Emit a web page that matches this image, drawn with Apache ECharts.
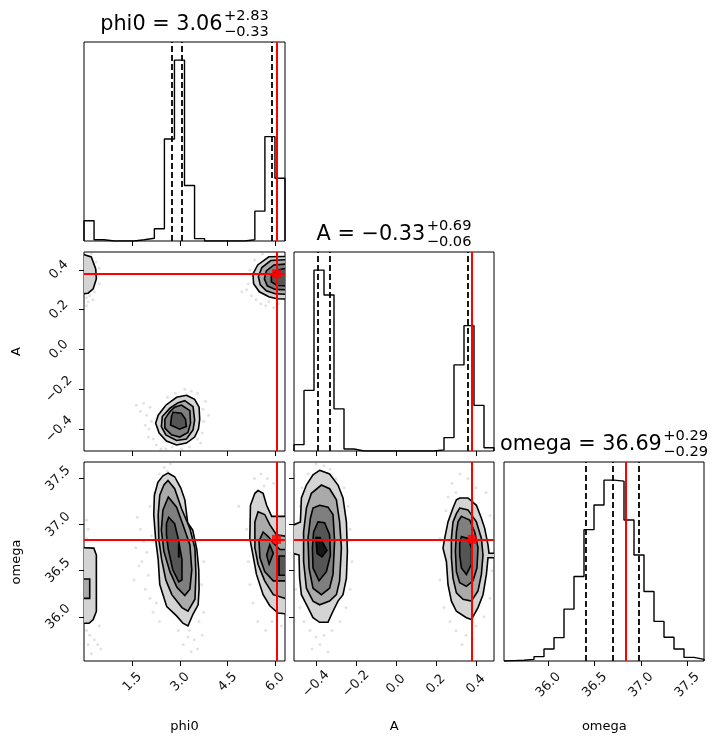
<!DOCTYPE html>
<html>
<head>
<meta charset="utf-8">
<script src="https://cdn.jsdelivr.net/npm/echarts@6/dist/echarts.min.js"></script>
<style>
html,body{margin:0;padding:0;background:#fff;}
#chart{width:724px;height:745px;}
</style>
</head>
<body>
<div id="chart"></div>
<script>
// axis ranges and ticks
const phi0Range = [-0.03, 6.31];
const aRange = [-0.51, 0.49];
const omegaRange = [35.52, 37.68];
const phi0Ticks = [1.5, 3.0, 4.5, 6.0];
const aTicks = [-0.4, -0.2, 0.0, 0.2, 0.4];
const omegaTicks = [36.0, 36.5, 37.0, 37.5];

// 1d histograms, 20 bins over the axis range (tallest bin = 100)
const phi0Counts = [11.2, 0.7, 0, 0, 0, 0.7, 1.5, 6.8, 56.4, 100, 30.7, 1.3, 0, 0, 0, 0, 0.7, 16.5, 57.7, 34.7];
const aCounts = [3.5, 33.5, 100, 86.2, 23.3, 1.1, 0, 0, 0, 0, 0, 0, 0, 0, 0.6, 7.4, 47.6, 69.3, 25.2, 1.8];
const omegaCounts = [0.2, 0.4, 0.9, 2.4, 6.6, 12.9, 28.7, 46.7, 72.6, 86.2, 100, 99.4, 77.9, 58.6, 38.4, 21.9, 13.1, 6.6, 2.0, 0.9];

// 16 / 50 / 84 % quantiles
const phi0Quant = [2.73, 3.06, 5.89];
const aQuant = [-0.39, -0.33, 0.36];
const omegaQuant = [36.40, 36.69, 36.98];

// true values
const truthPhi0 = 6.04;
const truthA = 0.381;
const truthOmega = 36.84;

// contour rings: [level, [[x, y], ...]]
const contourPhi0A = [
  [0, [[3.20,-0.23],[3.46,-0.25],[3.60,-0.29],[3.62,-0.35],[3.58,-0.40],[3.46,-0.44],[3.20,-0.47],[2.89,-0.48],[2.57,-0.46],[2.34,-0.42],[2.23,-0.37],[2.31,-0.33],[2.55,-0.28],[2.89,-0.24]]],
  [1, [[3.15,-0.257],[3.41,-0.287],[3.46,-0.354],[3.41,-0.404],[3.20,-0.45],[2.89,-0.457],[2.55,-0.429],[2.41,-0.387],[2.44,-0.337],[2.68,-0.295],[2.94,-0.267]]],
  [2, [[3.04,-0.279],[3.31,-0.307],[3.33,-0.37],[3.25,-0.417],[2.99,-0.44],[2.73,-0.429],[2.52,-0.395],[2.52,-0.35],[2.68,-0.312],[2.83,-0.29]]],
  [3, [[2.78,-0.315],[3.04,-0.32],[3.17,-0.35],[3.20,-0.387],[2.99,-0.40],[2.70,-0.379],[2.73,-0.337]]],
  [0, [[6.4,0.468],[5.80,0.466],[5.45,0.425],[5.30,0.38],[5.32,0.33],[5.50,0.29],[5.80,0.265],[6.05,0.255],[6.4,0.253]]],
  [1, [[6.4,0.452],[5.86,0.447],[5.58,0.412],[5.47,0.367],[5.53,0.325],[5.72,0.295],[6.0,0.28],[6.4,0.277]]],
  [2, [[6.4,0.43],[5.96,0.425],[5.72,0.395],[5.66,0.355],[5.75,0.32],[6.0,0.302],[6.4,0.3]]],
  [3, [[6.4,0.41],[6.06,0.4],[5.88,0.37],[5.88,0.34],[6.06,0.322],[6.4,0.32]]],
  [0, [[-0.1,0.48],[0.2,0.465],[0.34,0.405],[0.36,0.355],[0.26,0.305],[0.1,0.283],[-0.1,0.28]]]
];
const contourPhi0Omega = [
  [0, [[-0.1,36.75],[0.28,36.745],[0.36,36.67],[0.36,36.06],[0.26,35.97],[0.13,35.93],[-0.1,35.93]]],
  [1, [[-0.1,36.41],[0.15,36.41],[0.15,36.20],[-0.1,36.20]]],
  [0, [[2.62,37.56],[2.83,37.52],[3.02,37.40],[3.15,37.27],[3.24,37.02],[3.40,36.94],[3.53,36.73],[3.59,36.51],[3.60,36.30],[3.57,36.13],[3.41,36.03],[3.25,35.90],[3.09,35.93],[2.89,36.01],[2.58,36.11],[2.36,36.35],[2.31,36.62],[2.23,36.84],[2.17,37.11],[2.19,37.32],[2.30,37.46],[2.46,37.53]]],
  [1, [[2.62,37.48],[2.83,37.39],[3.05,37.17],[3.31,36.96],[3.47,36.74],[3.50,36.46],[3.47,36.19],[3.25,36.06],[3.06,36.10],[2.74,36.24],[2.55,36.40],[2.42,36.62],[2.33,36.84],[2.31,37.11],[2.36,37.32],[2.49,37.43]]],
  [2, [[2.63,37.30],[2.89,37.19],[3.10,36.99],[3.31,36.78],[3.37,36.51],[3.31,36.30],[3.15,36.23],[2.90,36.32],[2.68,36.49],[2.49,36.71],[2.41,36.94],[2.46,37.16]]],
  [3, [[2.64,37.08],[2.83,37.01],[2.94,36.85],[3.06,36.62],[3.06,36.40],[2.96,36.38],[2.77,36.51],[2.63,36.73],[2.57,36.89],[2.57,37.01]]],
  [4, [[2.955,36.78],[2.965,36.78],[2.965,36.65],[2.955,36.65]]],
  [0, [[5.46,37.37],[5.62,37.34],[5.73,37.21],[5.89,37.09],[6.09,37.09],[6.4,37.09],[6.4,36.03],[6.09,36.04],[5.83,36.12],[5.62,36.24],[5.41,36.46],[5.30,36.67],[5.20,36.85],[5.22,37.21],[5.36,37.34]]],
  [1, [[5.46,37.14],[5.67,37.11],[5.83,37.00],[6.04,36.89],[6.4,36.87],[6.4,36.19],[5.94,36.24],[5.67,36.39],[5.46,36.57],[5.36,36.75],[5.36,37.03]]],
  [2, [[5.62,36.92],[5.78,36.87],[5.94,36.80],[6.15,36.73],[6.4,36.73],[6.4,36.39],[5.94,36.39],[5.67,36.49],[5.52,36.64],[5.49,36.82]]],
  [3, [[5.83,36.78],[5.94,36.69],[5.81,36.57],[5.73,36.67]]],
  [3, [[6.12,36.66],[6.4,36.66],[6.4,36.45],[6.12,36.45]]]
];
const contourAOmega = [
  [0, [[-0.382,37.59],[-0.332,37.55],[-0.29,37.43],[-0.265,37.29],[-0.248,37.03],[-0.243,36.71],[-0.248,36.42],[-0.265,36.24],[-0.29,36.17],[-0.315,36.06],[-0.34,35.94],[-0.382,35.94],[-0.415,35.99],[-0.44,36.10],[-0.473,36.24],[-0.482,36.42],[-0.485,36.67],[-0.55,36.71],[-0.55,36.96],[-0.478,37.03],[-0.473,37.29],[-0.448,37.43],[-0.415,37.54]]],
  [1, [[-0.373,37.43],[-0.332,37.39],[-0.298,37.27],[-0.282,37.03],[-0.273,36.75],[-0.282,36.39],[-0.298,36.24],[-0.332,36.17],[-0.382,36.13],[-0.415,36.17],[-0.448,36.31],[-0.462,36.60],[-0.462,36.92],[-0.448,37.18],[-0.423,37.34]]],
  [2, [[-0.382,37.21],[-0.34,37.19],[-0.315,37.11],[-0.307,36.82],[-0.315,36.46],[-0.332,36.31],[-0.373,36.24],[-0.415,36.31],[-0.435,36.53],[-0.44,36.85],[-0.428,37.07],[-0.415,37.18]]],
  [3, [[-0.39,37.03],[-0.357,37.02],[-0.332,36.89],[-0.328,36.67],[-0.348,36.49],[-0.385,36.39],[-0.415,36.53],[-0.418,36.75],[-0.412,36.92]]],
  [4, [[-0.40,36.86],[-0.38,36.86],[-0.345,36.72],[-0.37,36.65],[-0.395,36.69]]],
  [0, [[0.3185,37.29],[0.36,37.29],[0.402,37.21],[0.427,37.07],[0.4435,36.96],[0.46,36.78],[0.465,36.69],[0.55,36.69],[0.55,36.64],[0.46,36.64],[0.452,36.46],[0.435,36.24],[0.41,36.10],[0.377,35.97],[0.352,35.99],[0.302,36.06],[0.277,36.17],[0.26,36.35],[0.252,36.60],[0.235,36.745],[0.2435,36.85],[0.26,37.03],[0.285,37.18],[0.302,37.27]]],
  [1, [[0.3185,37.18],[0.36,37.16],[0.402,37.03],[0.427,36.85],[0.435,36.67],[0.427,36.46],[0.41,36.28],[0.377,36.17],[0.335,36.19],[0.302,36.26],[0.285,36.42],[0.277,36.64],[0.277,36.85],[0.285,37.03],[0.302,37.12]]],
  [2, [[0.327,37.09],[0.3685,37.05],[0.3935,36.92],[0.41,36.75],[0.405,36.53],[0.385,36.39],[0.352,36.33],[0.3185,36.37],[0.302,36.49],[0.297,36.71],[0.302,36.92],[0.31,37.03]]],
  [3, [[0.327,36.87],[0.36,36.85],[0.377,36.75],[0.377,36.57],[0.352,36.46],[0.327,36.53],[0.3185,36.67],[0.3185,36.80]]]
];

// samples outside the contours
const dotsPhi0A = [[1.62,-0.28],[1.75,-0.31],[1.85,-0.27],[1.95,-0.33],[2.05,-0.29],[2.10,-0.36],[2.02,-0.40],[2.15,-0.45],[2.25,-0.48],[2.40,-0.50],[2.55,-0.50],[2.75,-0.49],[3.05,-0.50],[3.30,-0.49],[3.55,-0.45],[3.70,-0.42],[3.75,-0.36],[3.72,-0.30],[3.80,-0.26],[3.55,-0.22],[3.35,-0.21],[3.15,-0.20],[2.85,-0.22],[2.60,-0.24],[1.90,-0.38],[2.00,-0.44],[3.65,-0.47],[3.90,-0.33],
  [5.15,0.33],[5.20,0.40],[5.35,0.45],[5.60,0.48],[5.40,0.25],[5.55,0.23],[5.70,0.22],[5.95,0.21],[6.10,0.23],[5.10,0.30],[5.80,0.24],[5.25,0.27],[4.95,0.29],
  [0.05,0.26],[0.15,0.27],[0.30,0.29],[0.45,0.33],[0.40,0.37],[0.25,0.25],[0.10,0.24],[0.35,0.44],[0.45,0.41],[0.20,0.48],[0.05,0.22]];
const dotsPhi0Omega = [[1.65,37.08],[1.75,36.95],[1.85,36.82],[1.95,36.70],[1.70,36.55],[2.00,36.45],[1.90,36.30],[2.05,36.20],[2.15,36.05],[1.80,36.60],[2.10,36.88],[2.05,37.20],[2.20,37.35],[2.35,37.55],[2.50,37.62],[2.70,37.66],[2.60,37.58],[2.45,37.45],[3.30,35.85],[3.45,35.75],[3.55,35.65],[3.35,35.62],[3.70,35.80],[3.60,35.95],[3.25,35.78],[3.10,35.70],[2.95,35.85],[3.75,36.05],[3.68,36.35],[3.75,36.60],[2.25,36.15],[2.35,35.95],[1.55,36.40],[1.60,36.75],
  [0.05,35.85],[0.15,35.80],[0.30,35.75],[0.40,35.70],[0.50,35.65],[0.20,35.60],[0.10,35.70],[0.45,35.90],[0.05,37.05],[0.10,36.95],[0.05,36.85],
  [5.35,37.50],[5.55,37.55],[5.75,37.50],[5.95,37.45],[5.65,37.42],[4.85,37.20],[5.10,36.95],[5.15,36.60],[5.20,36.35],[5.30,36.15],[5.45,35.95],[5.70,35.85],[5.90,35.95],[6.20,35.90]];
const dotsAOmega = [[-0.40,37.66],[-0.36,37.64],[-0.33,37.60],[-0.30,37.50],[-0.26,37.40],[-0.24,37.20],[-0.23,36.95],[-0.22,36.60],[-0.23,36.30],[-0.25,36.10],[-0.28,35.95],[-0.32,35.85],[-0.36,35.80],[-0.40,35.78],[-0.43,35.85],[-0.46,35.95],[-0.48,36.10],[-0.50,36.30],[-0.49,36.85],[-0.48,37.20],[-0.47,37.40],[-0.44,37.55],[-0.38,35.70],[-0.34,35.62],[-0.42,35.65],
  [0.28,37.45],[0.32,37.55],[0.36,37.50],[0.40,37.40],[0.30,37.35],[0.38,37.60],[0.45,37.35],[0.47,37.10],[0.48,36.50],[0.47,36.20],[0.44,36.00],[0.40,35.90],[0.35,35.80],[0.30,35.85],[0.27,35.95],[0.24,36.10],[0.22,36.40],[0.22,36.85],[0.25,37.15],[0.33,35.70],[0.38,35.75],[0.26,37.30]];

const levelFill = ['#d4d4d4', '#aaaaaa', '#7f7f7f', '#555555', '#161616'];
const FONT = 'DejaVu Sans';
const MINUS = '\u2212';

// grid boxes: left, top, width, height
const boxes = [
  [84, 42, 201, 199],   // phi0 hist
  [84, 252, 201, 199],  // phi0 - A
  [294, 252, 200, 199], // A hist
  [84, 462, 201, 199],  // phi0 - omega
  [294, 462, 200, 199], // A - omega
  [504, 462, 200, 199]  // omega hist
];

function num(v, d) {
  return (v < 0 ? MINUS : '') + Math.abs(v).toFixed(d);
}

function stepLine(counts, range) {
  let w = (range[1] - range[0]) / counts.length;
  let pts = [[range[0], 0]];
  counts.forEach((c, i) => {
    pts.push([range[0] + i * w, c]);
    pts.push([range[0] + (i + 1) * w, c]);
  });
  pts.push([range[1], 0]);
  return pts;
}

function valAxis(grid, range, ticks, labels, margin) {
  return {
    type: 'value', gridIndex: grid, min: range[0], max: range[1],
    splitLine: {show: false}, axisLine: {show: false, onZero: false},
    axisTick: {show: true, customValues: ticks, length: 5, lineStyle: {color: '#000', width: 1}},
    axisLabel: {
      show: labels, customValues: ticks, rotate: 45, align: 'center', verticalAlign: 'middle',
      margin: margin, fontSize: 13, fontFamily: FONT, color: '#111',
      formatter: v => num(v, 1)
    }
  };
}

function histAxis(grid, counts) {
  return {type: 'value', gridIndex: grid, min: 0, max: Math.max(...counts) * 1.1, show: false};
}

function histSeries(idx, counts, range, quant, truth) {
  let lines = quant.map(q => ({xAxis: q, lineStyle: {color: '#000', width: 1.8, type: [6, 3]}}));
  lines.push({xAxis: truth, lineStyle: {color: '#ff0000', width: 2, type: 'solid'}});
  return {
    type: 'line', xAxisIndex: idx, yAxisIndex: idx, data: stepLine(counts, range),
    showSymbol: false, symbol: 'none', silent: true, z: 4,
    lineStyle: {color: '#000', width: 1.4},
    markLine: {symbol: ['none', 'none'], silent: true, label: {show: false}, data: lines}
  };
}

function contourSeries(idx, rings) {
  return {
    type: 'custom', xAxisIndex: idx, yAxisIndex: idx, clip: true, silent: true, z: 3,
    data: rings.map((r, i) => [i, i]),
    renderItem: (params, api) => {
      let r = rings[params.dataIndex];
      return {
        type: 'polygon',
        shape: {points: r[1].map(p => api.coord(p))},
        style: {fill: levelFill[r[0]], stroke: '#000', lineWidth: 1.6}
      };
    }
  };
}

function dotSeries(idx, dots) {
  return {
    type: 'scatter', xAxisIndex: idx, yAxisIndex: idx, data: dots, symbolSize: 3, silent: true, z: 2,
    itemStyle: {color: 'rgba(0,0,0,0.14)'}
  };
}

function truthSeries(idx, tx, ty) {
  return {
    type: 'scatter', xAxisIndex: idx, yAxisIndex: idx, data: [[tx, ty]], symbol: 'rect', symbolSize: 9,
    silent: true, z: 5, itemStyle: {color: '#ff0000'},
    markLine: {
      symbol: ['none', 'none'], silent: true, label: {show: false},
      lineStyle: {color: '#ff0000', width: 2, type: 'solid'},
      data: [{xAxis: tx}, {yAxis: ty}]
    }
  };
}

// titles: median with +/- errors, built from the quantiles
let ctx = document.createElement('canvas').getContext('2d');
function textW(s, size) {
  ctx.font = size + 'px "' + FONT + '"';
  return ctx.measureText(s).width;
}
function titleGroup(name, quant, box) {
  let main = name + ' = ' + num(quant[1], 2);
  let sup = '+' + (quant[2] - quant[1]).toFixed(2);
  let sub = MINUS + (quant[1] - quant[0]).toFixed(2);
  let mw = textW(main, 20.8);
  let sw = Math.max(textW(sup, 14.6), textW(sub, 14.6));
  let x0 = box[0] + box[2] / 2 - (mw + 1.5 + sw) / 2;
  let top = box[1];
  return [
    {type: 'text', x: x0, y: top - 17.5, style: {text: main, font: '20.8px "' + FONT + '"', fill: '#000', align: 'left', verticalAlign: 'middle'}},
    {type: 'text', x: x0 + mw + 1.5, y: top - 25.7, style: {text: sup, font: '14.6px "' + FONT + '"', fill: '#000', align: 'left', verticalAlign: 'middle'}},
    {type: 'text', x: x0 + mw + 1.5, y: top - 10, style: {text: sub, font: '14.6px "' + FONT + '"', fill: '#000', align: 'left', verticalAlign: 'middle'}}
  ];
}

function label(text, x, y, rot) {
  return {type: 'text', x: x, y: y, rotation: rot || 0,
    style: {text: text, font: '13px "' + FONT + '"', fill: '#000', align: 'center', verticalAlign: 'middle'}};
}

let chart = echarts.init(document.getElementById('chart'));
chart.setOption({
  animation: false,
  backgroundColor: '#fff',
  grid: boxes.map(b => ({left: b[0], top: b[1], width: b[2], height: b[3], show: true, borderColor: '#000', borderWidth: 1, backgroundColor: 'transparent'})),
  xAxis: [
    valAxis(0, phi0Range, phi0Ticks, false, 8),
    valAxis(1, phi0Range, phi0Ticks, false, 8),
    valAxis(2, aRange, aTicks, false, 8),
    valAxis(3, phi0Range, phi0Ticks, true, 21),
    valAxis(4, aRange, aTicks, true, 23),
    valAxis(5, omegaRange, omegaTicks, true, 24)
  ],
  yAxis: [
    histAxis(0, phi0Counts),
    valAxis(1, aRange, aTicks, true, 25),
    histAxis(2, aCounts),
    valAxis(3, omegaRange, omegaTicks, true, 26),
    valAxis(4, omegaRange, omegaTicks, false, 8),
    histAxis(5, omegaCounts)
  ],
  series: [
    histSeries(0, phi0Counts, phi0Range, phi0Quant, truthPhi0),
    histSeries(2, aCounts, aRange, aQuant, truthA),
    histSeries(5, omegaCounts, omegaRange, omegaQuant, truthOmega),
    dotSeries(1, dotsPhi0A),
    dotSeries(3, dotsPhi0Omega),
    dotSeries(4, dotsAOmega),
    contourSeries(1, contourPhi0A),
    contourSeries(3, contourPhi0Omega),
    contourSeries(4, contourAOmega),
    truthSeries(1, truthPhi0, truthA),
    truthSeries(3, truthPhi0, truthOmega),
    truthSeries(4, truthA, truthOmega)
  ],
  graphic: [].concat(
    titleGroup('phi0', phi0Quant, boxes[0]),
    titleGroup('A', aQuant, boxes[2]),
    titleGroup('omega', omegaQuant, boxes[5]),
    [
      label('phi0', 184.5, 727),
      label('A', 394.3, 727),
      label('omega', 604.3, 727),
      label('A', 16.5, 351.5, Math.PI / 2),
      label('omega', 17, 562, Math.PI / 2)
    ]
  )
});
</script>
</body>
</html>
